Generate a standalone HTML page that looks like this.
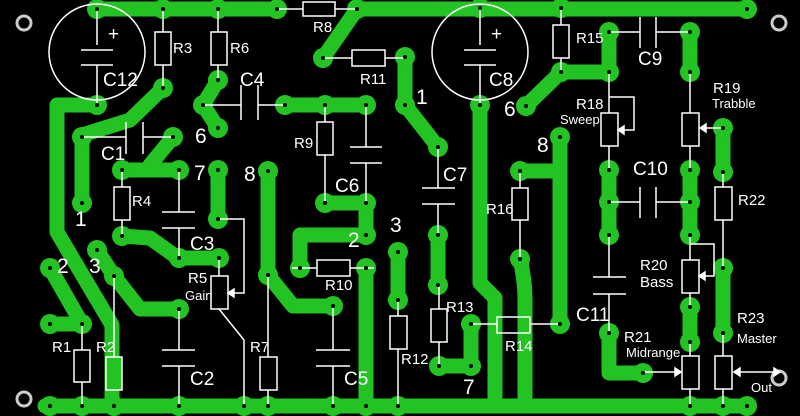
<!DOCTYPE html>
<html><head><meta charset="utf-8"><style>
html,body{margin:0;padding:0;background:#000;}
svg{display:block}
text{font-family:"Liberation Sans Narrow","Liberation Sans",sans-serif;fill:#fff}
.l{font-size:15px}
.s{font-size:13px}
.n{font-size:21px}
.c{font-size:19px}
</style></head><body>
<svg width="800" height="416" viewBox="0 0 800 416" xmlns="http://www.w3.org/2000/svg">
<rect width="800" height="416" fill="#000"/>
<!-- traces -->
<g fill="none" stroke="#22c322" stroke-width="15" stroke-linecap="round" stroke-linejoin="round">
<path d="M97 9H277"/><path d="M357 9H747"/>
<path d="M45 406H747"/>
<path d="M97 105H57V232L112 325V406"/>
<path d="M163 88L130 120L82 135V203"/>
<path d="M173 137L150 165"/><path d="M122 170H179"/>
<path d="M122 236L150 238L178 258H219"/>
<path d="M218 170V219"/>
<path d="M50 268L82 324H50"/>
<path d="M97 250L114 276L140 309H179"/>
<path d="M268 171V275L293 306H333"/>
<path d="M218 80L203 105L218 128"/>
<path d="M285 105H366"/>
<path d="M325 203H366V235H300V268"/>
<path d="M366 268V406"/>
<path d="M398 252V300"/>
<path d="M357 9L323 58"/>
<path d="M405 57V105L438 147"/>
<path d="M438 235V285"/>
<path d="M439 366H471V324"/>
<path d="M480 105V283L495 298V406"/>
<path d="M520 259Q525 280 525 300V406"/>
<path d="M520 171H560V324"/><path d="M560 137V171"/>
<path d="M609 32V72H561L526 106"/>
<path d="M690 32V72"/>
<path d="M609 170V235"/>
<path d="M690 170V235"/>
<path d="M723 128V172"/>
<path d="M690 307V342"/>
<path d="M723 268V333"/>
<path d="M609 333V373H643"/>
</g>
<!-- pads -->
<g fill="#22c322">
<circle cx="97" cy="9" r="10"/><circle cx="163" cy="9" r="10"/><circle cx="218" cy="9" r="10"/><circle cx="277" cy="9" r="10"/><circle cx="357" cy="9" r="10"/><circle cx="480" cy="8" r="10"/><circle cx="561" cy="8" r="10"/><circle cx="747" cy="9" r="10"/>
<circle cx="97" cy="105" r="10"/><circle cx="163" cy="88" r="10"/><circle cx="218" cy="80" r="10"/><circle cx="203" cy="105" r="10"/><circle cx="218" cy="128" r="10"/><circle cx="285" cy="105" r="10"/><circle cx="325" cy="105" r="10"/><circle cx="366" cy="105" r="10"/>
<circle cx="323" cy="58" r="10"/><circle cx="405" cy="57" r="10"/><circle cx="405" cy="105" r="10"/><circle cx="438" cy="147" r="10"/><circle cx="480" cy="105" r="10"/>
<circle cx="82" cy="137" r="10"/><circle cx="173" cy="137" r="10"/><circle cx="82" cy="203" r="10"/><circle cx="122" cy="170" r="10"/><circle cx="179" cy="170" r="10"/><circle cx="218" cy="170" r="10"/><circle cx="268" cy="171" r="10"/><circle cx="122" cy="236" r="10"/><circle cx="179" cy="258" r="10"/><circle cx="219" cy="258" r="10"/><circle cx="218" cy="219" r="10"/>
<circle cx="325" cy="203" r="10"/><circle cx="366" cy="203" r="10"/><circle cx="366" cy="235" r="10"/><circle cx="300" cy="268" r="10"/><circle cx="366" cy="268" r="10"/><circle cx="398" cy="252" r="10"/><circle cx="398" cy="300" r="10"/><circle cx="438" cy="235" r="10"/><circle cx="438" cy="285" r="10"/>
<circle cx="50" cy="268" r="10"/><circle cx="82" cy="324" r="10"/><circle cx="50" cy="324" r="10"/><circle cx="97" cy="250" r="10"/><circle cx="114" cy="276" r="10"/><circle cx="179" cy="309" r="10"/><circle cx="268" cy="275" r="10"/><circle cx="333" cy="306" r="10"/>
<circle cx="439" cy="366" r="10"/><circle cx="471" cy="366" r="10"/><circle cx="471" cy="324" r="10"/><circle cx="560" cy="324" r="10"/><circle cx="520" cy="259" r="10"/><circle cx="520" cy="171" r="10"/><circle cx="560" cy="137" r="10"/>
<circle cx="561" cy="72" r="10"/><circle cx="609" cy="32" r="10"/><circle cx="609" cy="72" r="10"/><circle cx="526" cy="106" r="10"/><circle cx="690" cy="32" r="10"/><circle cx="690" cy="72" r="10"/>
<circle cx="609" cy="170" r="10"/><circle cx="690" cy="170" r="10"/><circle cx="609" cy="202" r="10"/><circle cx="690" cy="202" r="10"/><circle cx="609" cy="235" r="10"/><circle cx="690" cy="235" r="10"/><circle cx="723" cy="128" r="10"/><circle cx="723" cy="172" r="10"/>
<circle cx="723" cy="268" r="10"/><circle cx="723" cy="333" r="10"/><circle cx="690" cy="307" r="10"/><circle cx="690" cy="342" r="10"/><circle cx="609" cy="333" r="10"/><circle cx="643" cy="373" r="10"/>
<circle cx="50" cy="406" r="10"/><circle cx="82" cy="406" r="10"/><circle cx="114" cy="406" r="10"/><circle cx="179" cy="406" r="10"/><circle cx="244" cy="406" r="10"/><circle cx="268" cy="406" r="10"/><circle cx="333" cy="406" r="10"/><circle cx="366" cy="406" r="10"/><circle cx="398" cy="406" r="10"/><circle cx="690" cy="406" r="10"/><circle cx="723" cy="406" r="10"/><circle cx="747" cy="406" r="10"/>
</g>
<!-- component outlines -->
<g fill="none" stroke="#fff" stroke-width="1.5">
<circle cx="97" cy="52" r="48"/><circle cx="480" cy="52" r="48"/>
<circle cx="24" cy="23" r="7" stroke="#ccc" stroke-width="3"/><circle cx="779" cy="23" r="7" stroke="#ccc" stroke-width="3"/><circle cx="24" cy="399" r="7" stroke="#ccc" stroke-width="3"/><circle cx="779" cy="378" r="7" stroke="#ccc" stroke-width="3"/>
<path d="M97 9V45M81 50H113M81 65H113M97 65V105"/>
<path d="M480 8V45M464 50H496M464 65H496M480 65V105"/>
<path d="M163 9V32M163 65V88"/><rect x="155" y="32" width="16" height="33"/>
<path d="M218 9V32M218 65V80"/><rect x="211" y="32" width="16" height="33"/>
<path d="M277 9H303M335 9H357"/><rect x="303" y="2" width="32" height="14"/>
<path d="M323 58H352M385 58H405"/><rect x="352" y="50" width="33" height="16"/>
<path d="M203 105H241M241 85V120M258 85V120M258 105H285"/>
<path d="M82 137H126M126 122V154M143 122V154M143 137H173"/>
<path d="M122 170V187M122 220V236"/><rect x="114" y="187" width="16" height="33"/>
<path d="M179 170V212M162 212H195M162 228H195M179 228V258"/>
<path d="M219 258V276M219 309L244 340V406"/><rect x="211" y="276" width="17" height="33"/>
<path d="M218 219H244V293H230"/><path d="M228 293l6 -4v8z" fill="#fff"/>
<path d="M325 105V122M325 155V203"/><rect x="317" y="122" width="16" height="33"/>
<path d="M366 105V147M350 147H382M350 163H382M366 163V203"/>
<path d="M292 268H317M350 268H374"/><rect x="317" y="260" width="33" height="16"/>
<path d="M333 306V350M316 350H350M316 366H350"/><path d="M333 366V406"/>
<path d="M179 309V350M162 350H195M162 366H195M179 366V406"/>
<path d="M82 324V350M82 382V406"/><rect x="74" y="350" width="16" height="32"/>
<path d="M114 276V357"/><rect x="106" y="357" width="16" height="33" fill="#22c322"/>
<path d="M268 275V357M268 390V406"/><rect x="260" y="357" width="17" height="33"/>
<path d="M398 300V316M398 349V406"/><rect x="390" y="316" width="17" height="33"/>
<path d="M438 147V188M422 188H455M422 204H455M438 204V235"/>
<path d="M439 285V309M439 342V366"/><rect x="431" y="309" width="16" height="33"/>
<path d="M471 324H497M530 324H560"/><rect x="497" y="317" width="33" height="16"/>
<path d="M520 171V188M520 220V259"/><rect x="512" y="188" width="16" height="32"/>
<path d="M561 8V25M561 58V72"/><rect x="553" y="25" width="16" height="33"/>
<path d="M609 32H640M640 17V48M656 17V48M656 32H690"/>
<path d="M609 72V113M609 146V170"/><rect x="601" y="113" width="17" height="33"/>
<path d="M609 97H634V130H620"/><path d="M618 130l6 -4v8z" fill="#fff"/>
<path d="M690 72V113M690 146V170"/><rect x="682" y="113" width="17" height="33"/>
<path d="M723 128H702"/><path d="M700 128l6 -4v8z" fill="#fff"/>
<path d="M609 202H640M640 187V218M656 187V218M656 202H690"/>
<path d="M723 172V187M723 220V268"/><rect x="715" y="187" width="17" height="33"/>
<path d="M690 235V260M690 293V307"/><rect x="682" y="260" width="17" height="33"/>
<path d="M690 244H714V276H701"/><path d="M699 276l6 -4v8z" fill="#fff"/>
<path d="M609 235V277M593 277H626M593 294H626M609 294V333"/>
<path d="M690 342V356M690 389V406"/><rect x="682" y="356" width="17" height="33"/>
<path d="M643 372H678"/><path d="M681 372l-6 -4v8z" fill="#fff"/>
<path d="M723 333V356M723 389V406"/><rect x="715" y="356" width="17" height="33"/>
<path d="M737 372H776"/><path d="M734 372l6 -4v8z" fill="#fff"/><path d="M780 372l-6 -4v8z" fill="#fff"/>
</g>
<!-- pad holes -->
<g fill="#000">
<circle cx="97" cy="9" r="2"/><circle cx="163" cy="9" r="2"/><circle cx="218" cy="9" r="2"/><circle cx="277" cy="9" r="2"/><circle cx="357" cy="9" r="2"/><circle cx="480" cy="8" r="2"/><circle cx="561" cy="8" r="2"/><circle cx="747" cy="9" r="2"/>
<circle cx="97" cy="105" r="2"/><circle cx="163" cy="88" r="2"/><circle cx="218" cy="80" r="2"/><circle cx="203" cy="105" r="2"/><circle cx="218" cy="128" r="2"/><circle cx="285" cy="105" r="2"/><circle cx="325" cy="105" r="2"/><circle cx="366" cy="105" r="2"/>
<circle cx="323" cy="58" r="2"/><circle cx="405" cy="57" r="2"/><circle cx="405" cy="105" r="2"/><circle cx="438" cy="147" r="2"/><circle cx="480" cy="105" r="2"/>
<circle cx="82" cy="137" r="2"/><circle cx="173" cy="137" r="2"/><circle cx="82" cy="203" r="2"/><circle cx="122" cy="170" r="2"/><circle cx="179" cy="170" r="2"/><circle cx="218" cy="170" r="2"/><circle cx="268" cy="171" r="2"/><circle cx="122" cy="236" r="2"/><circle cx="179" cy="258" r="2"/><circle cx="219" cy="258" r="2"/><circle cx="218" cy="219" r="2"/>
<circle cx="325" cy="203" r="2"/><circle cx="366" cy="203" r="2"/><circle cx="366" cy="235" r="2"/><circle cx="300" cy="268" r="2"/><circle cx="366" cy="268" r="2"/><circle cx="398" cy="252" r="2"/><circle cx="398" cy="300" r="2"/><circle cx="438" cy="235" r="2"/><circle cx="438" cy="285" r="2"/>
<circle cx="50" cy="268" r="2"/><circle cx="82" cy="324" r="2"/><circle cx="50" cy="324" r="2"/><circle cx="97" cy="250" r="2"/><circle cx="114" cy="276" r="2"/><circle cx="179" cy="309" r="2"/><circle cx="268" cy="275" r="2"/><circle cx="333" cy="306" r="2"/>
<circle cx="439" cy="366" r="2"/><circle cx="471" cy="366" r="2"/><circle cx="471" cy="324" r="2"/><circle cx="560" cy="324" r="2"/><circle cx="520" cy="259" r="2"/><circle cx="520" cy="171" r="2"/><circle cx="560" cy="137" r="2"/>
<circle cx="561" cy="72" r="2"/><circle cx="609" cy="32" r="2"/><circle cx="609" cy="72" r="2"/><circle cx="526" cy="106" r="2"/><circle cx="690" cy="32" r="2"/><circle cx="690" cy="72" r="2"/>
<circle cx="609" cy="170" r="2"/><circle cx="690" cy="170" r="2"/><circle cx="609" cy="202" r="2"/><circle cx="690" cy="202" r="2"/><circle cx="609" cy="235" r="2"/><circle cx="690" cy="235" r="2"/><circle cx="723" cy="128" r="2"/><circle cx="723" cy="172" r="2"/>
<circle cx="723" cy="268" r="2"/><circle cx="723" cy="333" r="2"/><circle cx="690" cy="307" r="2"/><circle cx="690" cy="342" r="2"/><circle cx="609" cy="333" r="2"/><circle cx="643" cy="373" r="2"/>
<circle cx="50" cy="406" r="2"/><circle cx="82" cy="406" r="2"/><circle cx="114" cy="406" r="2"/><circle cx="179" cy="406" r="2"/><circle cx="244" cy="406" r="2"/><circle cx="268" cy="406" r="2"/><circle cx="333" cy="406" r="2"/><circle cx="366" cy="406" r="2"/><circle cx="398" cy="406" r="2"/><circle cx="690" cy="406" r="2"/><circle cx="723" cy="406" r="2"/><circle cx="747" cy="406" r="2"/>
</g>
<!-- labels -->
<g>
<text x="108" y="40" class="c">+</text><text x="491" y="40" class="c">+</text>
<text x="103" y="86" class="c">C12</text><text x="489" y="86" class="c">C8</text>
<text x="173" y="53" class="l">R3</text><text x="230" y="53" class="l">R6</text>
<text x="313" y="32" class="l">R8</text><text x="360" y="84" class="l">R11</text>
<text x="240" y="86" class="c">C4</text><text x="101" y="160" class="c">C1</text>
<text x="132" y="206" class="l">R4</text><text x="190" y="250" class="c">C3</text>
<text x="188" y="283" class="l">R5</text><text x="185" y="300" class="s">Gain</text>
<text x="294" y="148" class="l">R9</text><text x="335" y="192" class="c">C6</text>
<text x="325" y="290" class="l">R10</text><text x="443" y="181" class="c">C7</text>
<text x="52" y="352" class="l">R1</text><text x="96" y="352" class="l">R2</text>
<text x="190" y="385" class="c">C2</text><text x="250" y="352" class="l">R7</text>
<text x="344" y="385" class="c">C5</text><text x="401" y="364" class="l">R12</text>
<text x="446" y="312" class="l">R13</text><text x="505" y="351" class="l">R14</text>
<text x="486" y="214" class="l">R16</text><text x="576" y="43" class="l">R15</text>
<text x="638" y="65" class="c">C9</text>
<text x="576" y="109" class="l">R18</text><text x="560" y="124" class="s">Sweep</text>
<text x="713" y="93" class="l">R19</text><text x="712" y="108" class="s">Trabble</text>
<text x="633" y="175" class="c">C10</text><text x="738" y="205" class="l">R22</text>
<text x="640" y="270" class="l">R20</text><text x="640" y="287" class="l">Bass</text>
<text x="576" y="321" class="c">C11</text>
<text x="624" y="342" class="l">R21</text><text x="626" y="357" class="s">Midrange</text>
<text x="737" y="323" class="l">R23</text><text x="737" y="343" class="s">Master</text>
<text x="751" y="392" class="s">Out</text>
<text x="195" y="143" class="n">6</text><text x="194" y="180" class="n">7</text><text x="244" y="181" class="n">8</text>
<text x="75" y="226" class="n">1</text><text x="57" y="273" class="n">2</text><text x="89" y="273" class="n">3</text>
<text x="348" y="247" class="n">2</text><text x="390" y="232" class="n">3</text><text x="416" y="104" class="n">1</text>
<text x="504" y="116" class="n">6</text><text x="537" y="152" class="n">8</text><text x="463" y="394" class="n">7</text>
</g>
</svg>
</body></html>
